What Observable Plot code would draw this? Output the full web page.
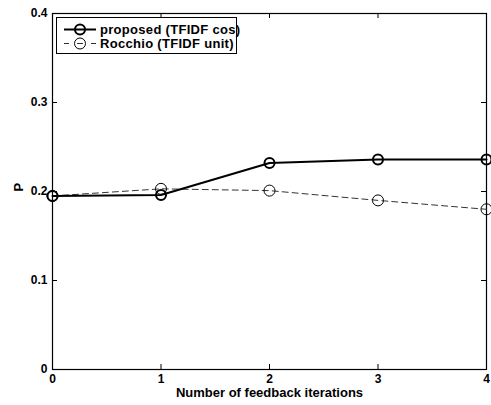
<!DOCTYPE html>
<html><head><meta charset="utf-8">
<script src="https://cdn.jsdelivr.net/npm/d3@7"></script>
<script src="https://cdn.jsdelivr.net/npm/@observablehq/plot@0.6"></script>
<style>body{margin:0;background:#fff} #chart{position:relative;width:491px;height:405px}</style>
</head><body><div id="chart"></div>
<script>
const iterations = [0, 1, 2, 3, 4];
const proposed = [0.195, 0.196, 0.232, 0.236, 0.236];
const rocchio = [0.195, 0.203, 0.201, 0.190, 0.180];
const seriesNames = ["proposed (TFIDF cos)", "Rocchio (TFIDF unit)"];
const xTicks = [0, 1, 2, 3, 4];
const yTicks = [0, 0.1, 0.2, 0.3, 0.4];
const xLabel = "Number of feedback iterations";
const yLabel = "P";

const rowsP = iterations.map((x, i) => ({x, y: proposed[i]}));
const rowsR = iterations.map((x, i) => ({x, y: rocchio[i]}));

const W = 491, H = 405, mL = 52, mR = 5, mT = 13, mB = 36;
const plotH = H - mT - mB, plotW = W - mL - mR;
const tk = 5;
const font = "'Liberation Sans', Arial, Helvetica, sans-serif";

const chart = Plot.plot({
  width: W, height: H,
  marginLeft: mL, marginRight: mR, marginTop: mT, marginBottom: mB,
  style: {fontFamily: font, fontWeight: "bold", fontSize: "12px", color: "black", background: "white", overflow: "visible"},
  x: {domain: [0, 4]},
  y: {domain: [0, 0.4]},
  marks: [
    Plot.axisX(xTicks, {tickSize: 0, tickPadding: 5, fontSize: 12, label: null, tickFormat: d => String(d)}),
    Plot.axisY(yTicks, {tickSize: 0, tickPadding: 5, fontSize: 12, label: null, tickFormat: d => String(d)}),
    Plot.tickX(xTicks, {x: d => d, insetTop: plotH - tk, stroke: "black"}),
    Plot.tickX(xTicks, {x: d => d, insetBottom: plotH - tk, stroke: "black"}),
    Plot.tickY(yTicks, {y: d => d, insetRight: plotW - tk, stroke: "black"}),
    Plot.tickY(yTicks, {y: d => d, insetLeft: plotW - tk, stroke: "black"}),
    Plot.frame({stroke: "black", strokeWidth: 1.2}),
    Plot.text([xLabel], {frameAnchor: "bottom", dy: 27, fontSize: 13, fontWeight: "bold"}),
    Plot.text([yLabel], {frameAnchor: "left", dx: -34, rotate: -90, fontSize: 13, fontWeight: "bold"}),
    Plot.line(rowsR, {x: "x", y: "y", stroke: "#333", strokeWidth: 1, strokeDasharray: "6,4"}),
    Plot.dot(rowsR, {x: "x", y: "y", r: 5.5, stroke: "black", strokeWidth: 1, fill: "none"}),
    Plot.line(rowsP, {x: "x", y: "y", stroke: "black", strokeWidth: 2}),
    Plot.dot(rowsP, {x: "x", y: "y", r: 5, stroke: "black", strokeWidth: 2, fill: "none"})
  ]
});
document.getElementById("chart").appendChild(chart);

// legend inside the axes (top-left)
const svg = d3.select(chart);
const lg = svg.append("g").attr("font-family", font).attr("font-weight", "bold")
  .attr("font-size", 13).attr("text-anchor", "start");
lg.append("rect").attr("x", 56.5).attr("y", 17.5).attr("width", 180).attr("height", 36)
  .attr("fill", "white").attr("stroke", "black").attr("stroke-width", 1);
const items = [
  {name: seriesNames[0], w: 2, dash: null, r: 5, stroke: "black"},
  {name: seriesNames[1], w: 1, dash: "5,8,6,8", r: 5.5, stroke: "#333"}
];
items.forEach((it, i) => {
  const cy = 29.5 + i * 14;
  lg.append("line").attr("x1", 64).attr("x2", 96).attr("y1", cy).attr("y2", cy)
    .attr("stroke", it.stroke).attr("stroke-width", it.w)
    .attr("stroke-dasharray", it.dash);
  lg.append("circle").attr("cx", 80).attr("cy", cy).attr("r", it.r)
    .attr("fill", "none").attr("stroke", "black").attr("stroke-width", it.w);
  lg.append("text").attr("x", 100).attr("y", cy).attr("dy", "0.35em")
    .attr("letter-spacing", "0.3px").text(it.name);
});
</script>
</body></html>
